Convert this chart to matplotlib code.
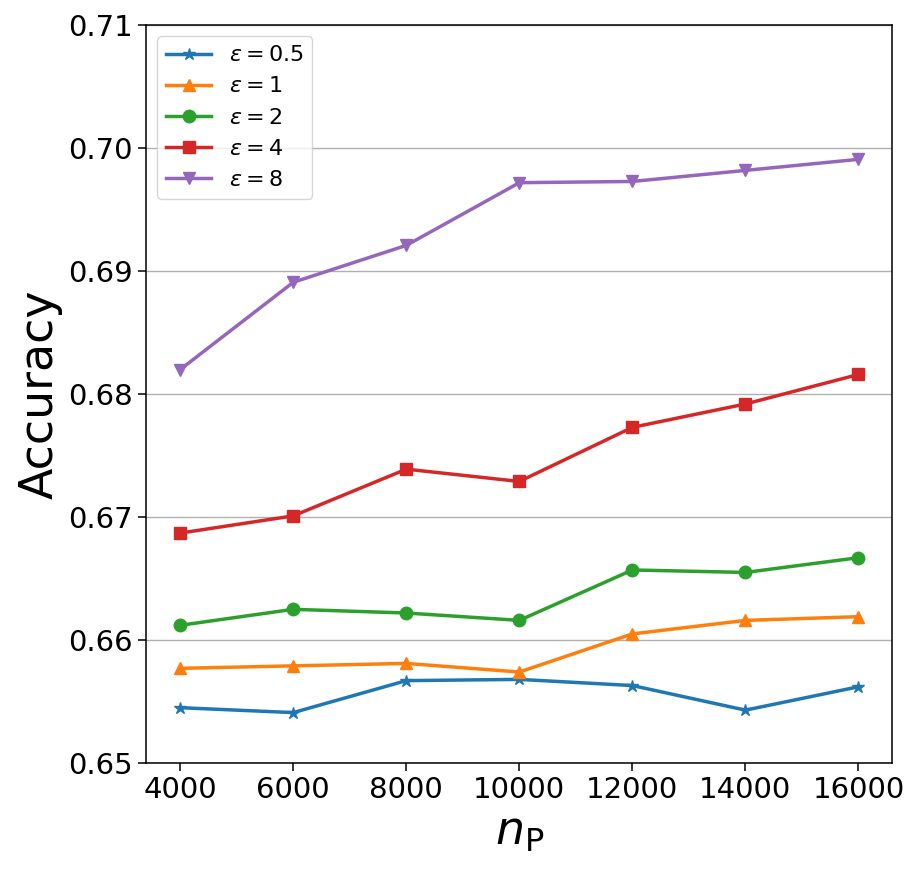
import matplotlib
matplotlib.use("Agg")
import matplotlib.pyplot as plt

# Data
n_p = [4000, 6000, 8000, 10000, 12000, 14000, 16000]
acc_eps05 = [0.6545, 0.6541, 0.6567, 0.6568, 0.6563, 0.6543, 0.6562]
acc_eps1 = [0.6577, 0.6579, 0.6581, 0.6574, 0.6605, 0.6616, 0.6619]
acc_eps2 = [0.6612, 0.6625, 0.6622, 0.6616, 0.6657, 0.6655, 0.6667]
acc_eps4 = [0.6687, 0.6701, 0.6739, 0.6729, 0.6773, 0.6792, 0.6816]
acc_eps8 = [0.6820, 0.6891, 0.6921, 0.6972, 0.6973, 0.6982, 0.6991]

series = [
    (acc_eps05, r"$\varepsilon = 0.5$", "*"),
    (acc_eps1, r"$\varepsilon = 1$", "^"),
    (acc_eps2, r"$\varepsilon = 2$", "o"),
    (acc_eps4, r"$\varepsilon = 4$", "s"),
    (acc_eps8, r"$\varepsilon = 8$", "v"),
]

fig = plt.figure(figsize=(9.2, 8.73), dpi=100)
ax = fig.add_axes([0.159, 0.126, 0.811, 0.845])

for vals, label, mk in series:
    ax.plot(n_p, vals, marker=mk, markersize=9, linewidth=2.5, label=label)

ax.set_ylim(0.65, 0.71)
ax.set_xticks(n_p)
ax.set_yticks([0.65, 0.66, 0.67, 0.68, 0.69, 0.70, 0.71])
ax.yaxis.grid(True, color="#b0b0b0", linewidth=1)
ax.set_axisbelow(True)
ax.tick_params(labelsize=21, length=6, width=1.1)
for sp in ax.spines.values():
    sp.set_linewidth(1.1)
ax.set_xlabel(r"$n_\mathrm{P}$", fontsize=33)
ax.set_ylabel("Accuracy", fontsize=33)
ax.legend(loc="upper left", fontsize=16)

fig.savefig("out.png", dpi=100)
